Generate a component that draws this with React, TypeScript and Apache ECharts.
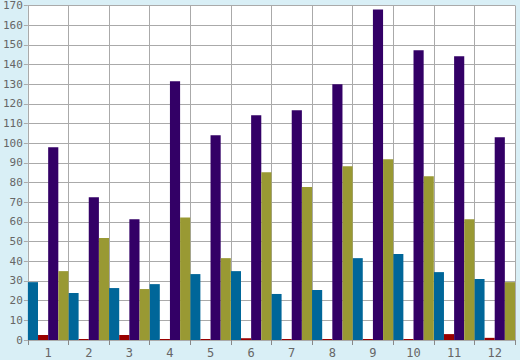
import React, { useEffect, useRef } from "react";
import * as echarts from "echarts";

const categories = ["1", "2", "3", "4", "5", "6", "7", "8", "9", "10", "11", "12"];
const seriesTeal = [29.4, 23.9, 26.4, 28.4, 33.5, 35, 23.4, 25.4, 41.6, 43.7, 34.5, 31];
const seriesRed = [2.5, 0.5, 2.5, 0.5, 0.5, 0.9, 0.5, 0.5, 0.5, 0.5, 3, 1.1];
const seriesPurple = [98, 72.6, 61.4, 131.5, 104.1, 114.2, 116.8, 130, 168, 147.2, 144.2, 103];
const seriesOlive = [35, 51.8, 25.9, 62.3, 41.6, 85.3, 77.7, 88.3, 91.9, 83.2, 61.4, 29.4];

const colors = ["#006699", "#990000", "#330066", "#999933"];

export default function App() {
  const ref = useRef<HTMLDivElement>(null);
  useEffect(() => {
    if (!ref.current) return;
    const chart = echarts.init(ref.current, undefined, { renderer: "svg" });
    const font = "DejaVu Sans Mono";
    chart.setOption({
      animation: false,
      backgroundColor: "#d9eff6",
      grid: {
        left: 26,
        right: 5,
        top: 5,
        bottom: 20,
        show: true,
        backgroundColor: "#ffffff",
        borderWidth: 0,
      },
      xAxis: {
        type: "category",
        data: categories,
        boundaryGap: true,
        axisLine: { show: true, lineStyle: { color: "#aaaaaa", width: 1 } },
        axisTick: { show: true, length: 5, lineStyle: { color: "#888888" } },
        splitLine: { show: true, lineStyle: { color: "#aaaaaa", width: 1 } },
        axisLabel: { color: "#666666", fontFamily: font, fontSize: 12, margin: 7 },
      },
      yAxis: {
        type: "value",
        min: 0,
        max: 170,
        interval: 10,
        axisLine: { show: true, lineStyle: { color: "#aaaaaa", width: 1 } },
        axisTick: { show: true, length: 4, lineStyle: { color: "#aaaaaa" } },
        splitLine: { show: true, lineStyle: { color: "#aaaaaa", width: 1 } },
        axisLabel: { color: "#666666", fontFamily: font, fontSize: 11, margin: 5 },
      },
      series: [
        { type: "bar", data: seriesTeal, itemStyle: { color: colors[0] }, barGap: "0%", barCategoryGap: "0%" },
        { type: "bar", data: seriesRed, itemStyle: { color: colors[1] }, barGap: "0%", barCategoryGap: "0%" },
        { type: "bar", data: seriesPurple, itemStyle: { color: colors[2] }, barGap: "0%", barCategoryGap: "0%" },
        { type: "bar", data: seriesOlive, itemStyle: { color: colors[3] }, barGap: "0%", barCategoryGap: "0%" },
      ],
    });
    return () => chart.dispose();
  }, []);
  return (
    <div
      ref={ref}
      style={{ position: "fixed", left: 0, top: 0, width: 520, height: 360 }}
    />
  );
}
